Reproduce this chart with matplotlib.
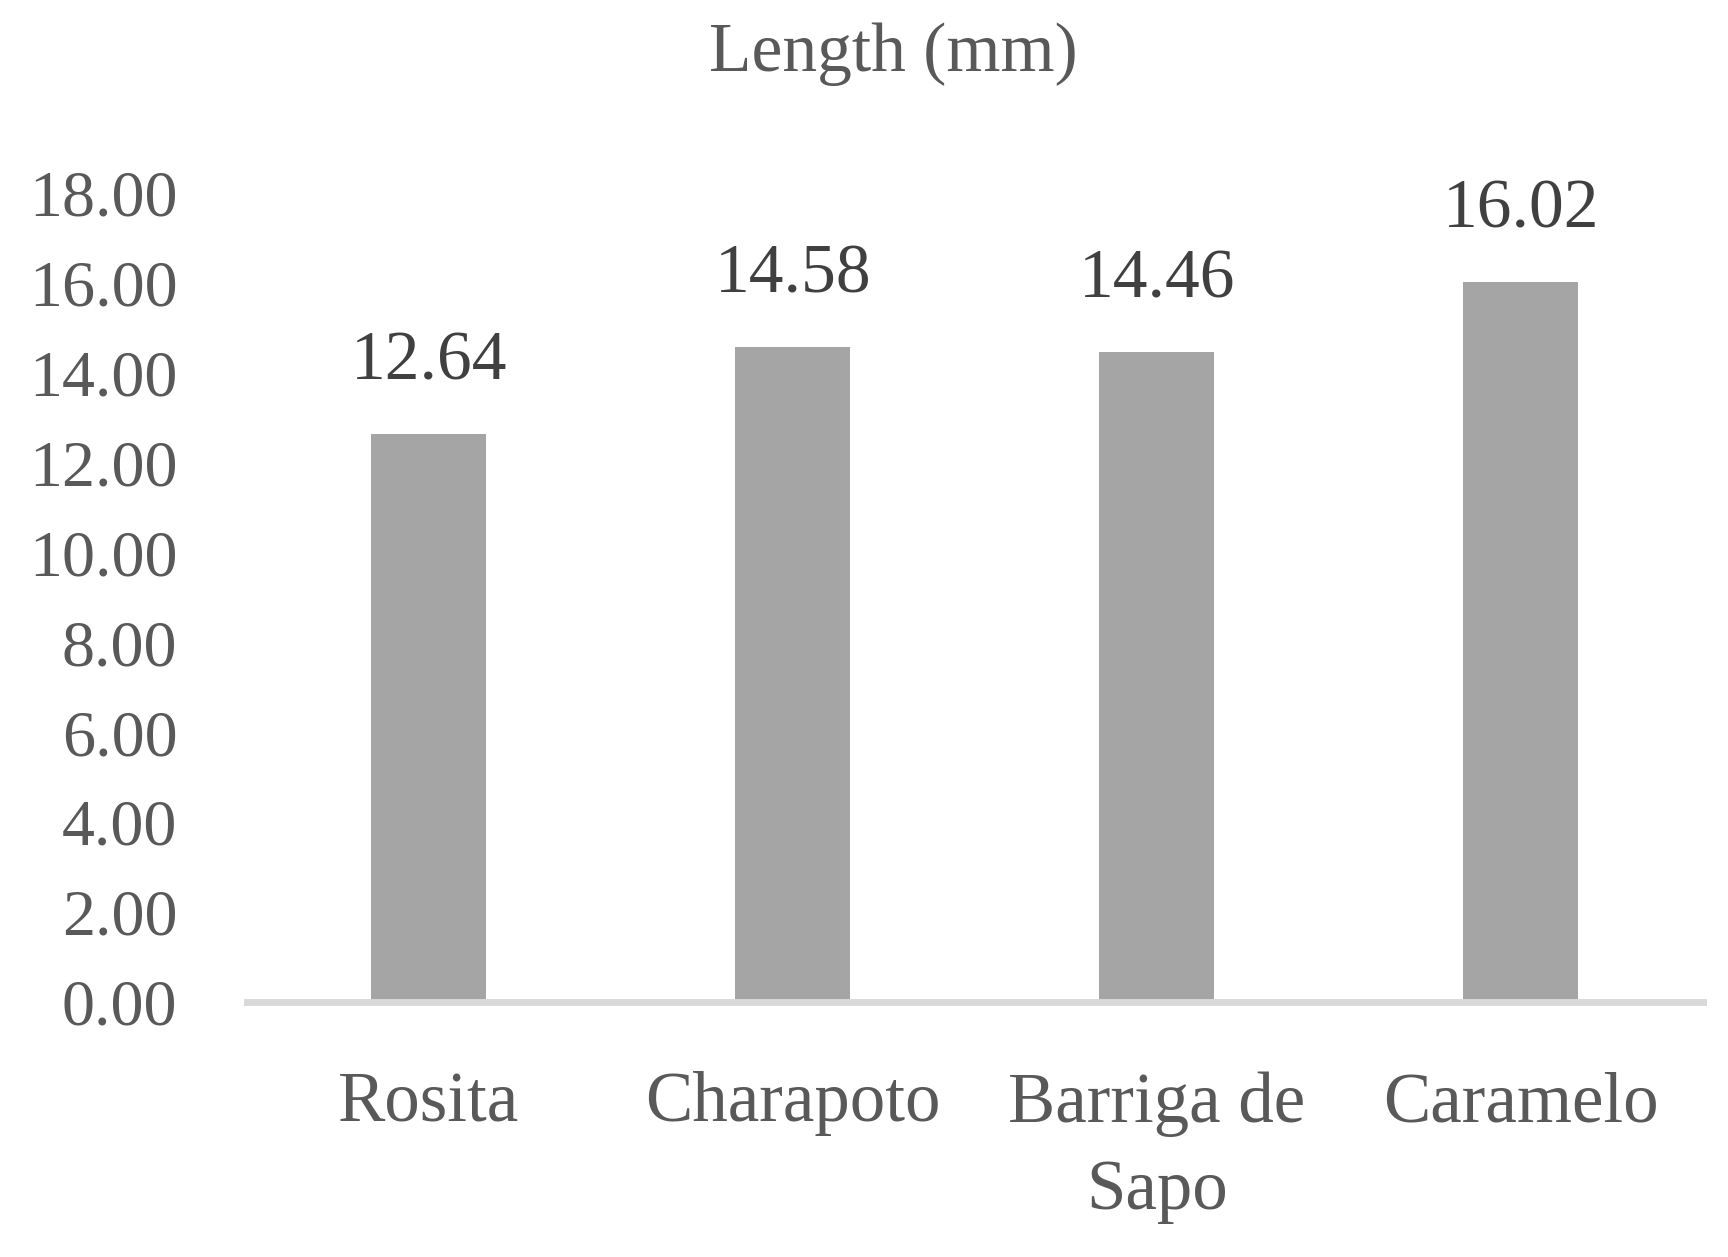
import matplotlib
matplotlib.use("Agg")
import matplotlib.pyplot as plt

categories = ["Rosita", "Charapoto", "Barriga de\nSapo", "Caramelo"]
values = [12.64, 14.58, 14.46, 16.02]
yticks = [0, 2, 4, 6, 8, 10, 12, 14, 16, 18]
title = "Length (mm)"

plt.rcParams['font.family'] = ['Liberation Serif', 'DejaVu Serif']

fig = plt.figure(figsize=(17.28, 12.57), dpi=100)
ax = fig.add_axes([0.1429, 0.2029, 0.8426, 0.6436])

x = list(range(len(categories)))
ax.bar(x, values, width=0.316, color="#a5a5a5", zorder=2)

ax.set_xlim(-0.5, len(categories) - 0.5)
ax.set_ylim(0, 18)
ax.set_yticks(yticks)
ax.set_yticklabels([f"{t:.2f}" for t in yticks], fontsize=47.5, color="#595959")
ax.set_xticks(x)
ax.set_xticklabels(categories, fontsize=51, color="#595959", linespacing=1.45)
ax.tick_params(axis='y', length=0, pad=50)
ax.tick_params(axis='x', length=0, pad=50)

for s in ["top", "right", "left"]:
    ax.spines[s].set_visible(False)
ax.spines["bottom"].set_color("#d9d9d9")
ax.spines["bottom"].set_linewidth(5)
ax.spines["bottom"].set_zorder(3)

for xi, v in zip(x, values):
    ax.annotate(f"{v:.2f}", (xi, v), xytext=(0, 39), textcoords="offset points",
                ha="center", va="baseline", fontsize=50, color="#404040")

fig.text(0.517, 0.957, title, ha="center", va="center", fontsize=50, color="#595959")

fig.savefig("out.png", dpi=100, facecolor="white")
